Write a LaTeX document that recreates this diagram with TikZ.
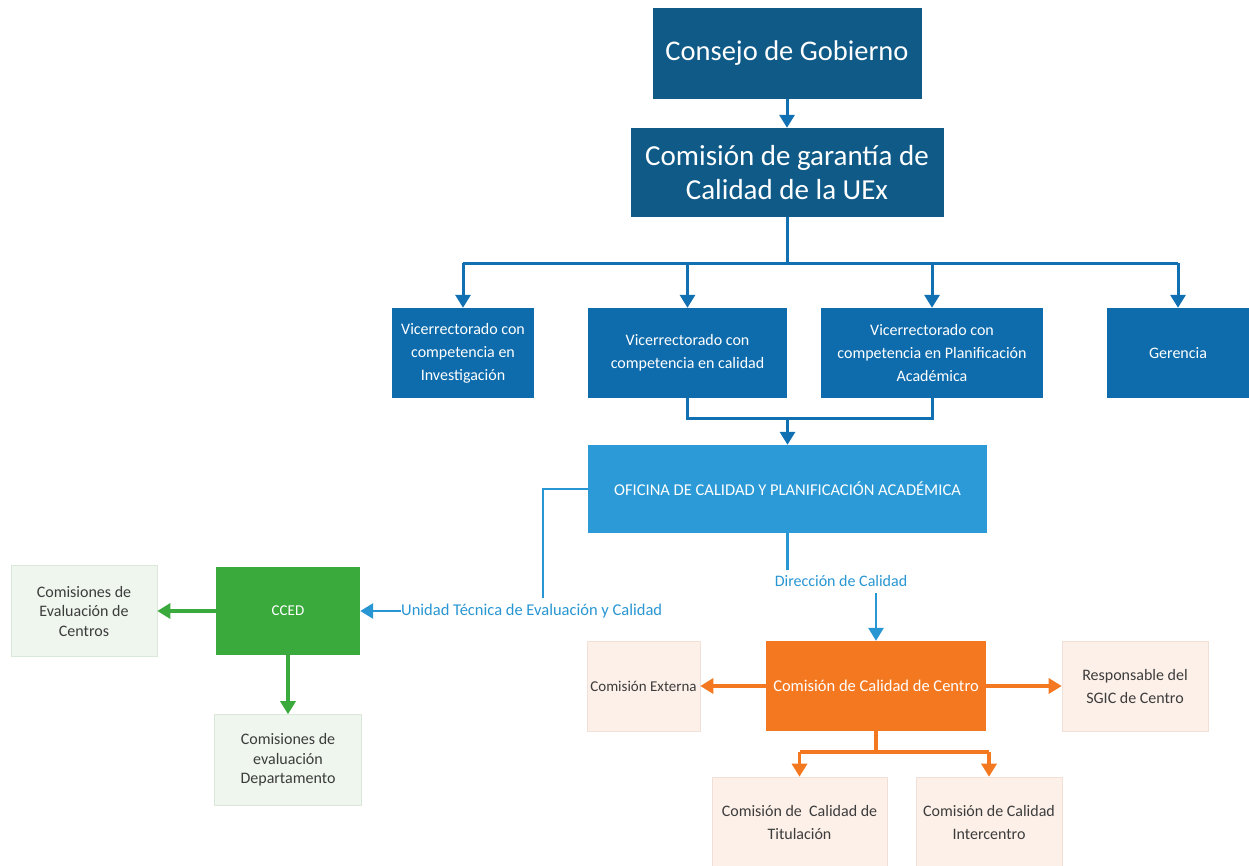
\documentclass[tikz,border=0pt]{standalone}
\usepackage{fontspec}
\setmainfont{Carlito}
\usetikzlibrary{arrows.meta}
\definecolor{dblue}{RGB}{15,90,135}
\definecolor{mblue}{RGB}{14,108,172}
\definecolor{lblue}{RGB}{43,154,215}
\definecolor{lineblue}{RGB}{16,112,178}
\definecolor{llblue}{RGB}{40,150,210}
\definecolor{ggreen}{RGB}{58,170,60}
\definecolor{pgreen}{RGB}{238,246,238}
\definecolor{pgreenb}{RGB}{218,232,218}
\definecolor{orng}{RGB}{244,120,32}
\definecolor{peach}{RGB}{253,240,233}
\definecolor{peachb}{RGB}{240,224,216}
\definecolor{dtext}{RGB}{60,60,60}
\tikzset{
  box/.style={rectangle, inner sep=2pt, align=center, text=white},
  bigbox/.style={box, fill=dblue, font=\fontsize{29}{34}\selectfont},
  vbox/.style={box, fill=mblue, font=\fontsize{16}{23}\selectfont},
  palegreen/.style={box, fill=pgreen, draw=pgreenb, line width=0.6pt, text=dtext, font=\fontsize{16}{19.5}\selectfont},
  palepeach/.style={box, fill=peach, draw=peachb, line width=0.6pt, text=dtext, font=\fontsize{16}{23}\selectfont},
  arr/.style={-{Triangle[width=15pt,length=13pt]}},
  bl/.style={draw=lineblue, line width=3pt},
  lbl/.style={draw=llblue, line width=2.8pt},
  gl/.style={draw=ggreen, line width=3.2pt},
  ol/.style={draw=orng, line width=3.2pt},
}
\begin{document}
\begin{tikzpicture}[x=1pt,y=-1pt]
\useasboundingbox[fill=white] (0,0) rectangle (1249,865);
% top
\node[bigbox, minimum width=269pt, minimum height=91pt, font=\fontsize{28.5}{34}\selectfont] (consejo) at (787,53.5) {Consejo de Gobierno};
\node[bigbox, minimum width=313pt, minimum height=89pt] (cgc) at (787,172.5) {Comisión de garantía de\\Calidad de la UEx};
% vicerrectorados
\node[vbox, minimum width=142pt, minimum height=90pt] (vinv) at (463,353) {Vicerrectorado con\\competencia en\\Investigación};
\node[vbox, minimum width=199pt, minimum height=90pt] (vcal) at (687.5,353) {Vicerrectorado con\\competencia en calidad};
\node[vbox, minimum width=222pt, minimum height=90pt] (vpla) at (932,353) {Vicerrectorado con\\competencia en Planificación\\Académica};
\node[vbox, minimum width=142pt, minimum height=90pt] (ger) at (1178,353) {Gerencia};
% oficina
\node[box, fill=lblue, minimum width=399pt, minimum height=88pt, font=\fontsize{16.5}{18}\selectfont] (ofi) at (787.5,489) {OFICINA DE CALIDAD Y PLANIFICACIÓN ACADÉMICA};
% labels
\node[inner sep=0pt, text=llblue, font=\fontsize{16}{18}\selectfont] (dir) at (841,581) {Dirección de Calidad};
\node[inner sep=0pt, text=llblue, font=\fontsize{16.5}{18}\selectfont, anchor=west] (ute) at (401,611) {Unidad Técnica de Evaluación y Calidad};
% green
\node[box, fill=ggreen, minimum width=144pt, minimum height=88pt, font=\fontsize{15}{18}\selectfont] (cced) at (288,611) {CCED};
\node[palegreen, minimum width=146pt, minimum height=91pt] (cec) at (84,611) {Comisiones de\\Evaluación de\\Centros};
\node[palegreen, minimum width=147pt, minimum height=91pt] (ced) at (288,760) {Comisiones de\\evaluación\\Departamento};
% orange
\node[box, fill=orng, minimum width=220pt, minimum height=90pt, font=\fontsize{16.5}{20}\selectfont] (ccc) at (876,686) {Comisión de Calidad de Centro};
\node[palepeach, minimum width=113pt, minimum height=90pt, font=\fontsize{15}{20}\selectfont] (cext) at (643.5,686) {Comisión Externa};
\node[palepeach, minimum width=146pt, minimum height=90pt] (resp) at (1135,686) {Responsable del\\SGIC de Centro};
\node[palepeach, minimum width=175pt, minimum height=90pt] (ctit) at (799.5,822) {Comisión de \ Calidad de\\Titulación};
\node[palepeach, minimum width=146pt, minimum height=90pt] (cint) at (989,822) {Comisión de Calidad\\Intercentro};
% connectors top
\draw[bl, arr] (consejo.south) -- (cgc.north);
\coordinate (bus) at (787,263);
\draw[bl] (cgc.south) -- (bus);
\draw[bl] (bus -| vinv.north) -- (bus -| ger.north);
\draw[bl, arr] (bus -| vinv.north) -- (vinv.north);
\draw[bl, arr] (bus -| vcal.north) -- (vcal.north);
\draw[bl, arr] (bus -| vpla.north) -- (vpla.north);
\draw[bl, arr] (bus -| ger.north) -- (ger.north);
% to oficina
\coordinate (mid) at (787.5,418);
\draw[bl] (vcal.south) |- (mid) -| (vpla.south);
\draw[bl, arr] (mid) -- (ofi.north);
% oficina to units
\coordinate (utetop) at (543,598);
\draw[lbl] (ofi.west) -| (utetop);
\draw[lbl, arr] (ute.west) -- (cced.east);
\coordinate (ofibot) at (787.5,570);
\draw[lbl] (ofi.south) -- (ofibot);
\coordinate (dirbot) at (876,593);
\draw[lbl, arr] (dirbot) -- (ccc.north);
% green connectors
\draw[gl, arr] (cced.west) -- (cec.east);
\draw[gl, arr] (cced.south) -- (ced.north);
% orange connectors
\draw[ol, arr] (ccc.west) -- (cext.east);
\draw[ol, arr] (ccc.east) -- (resp.west);
\coordinate (obus) at (876,752);
\draw[ol] (ccc.south) -- (obus);
\draw[ol] (obus -| ctit.north) -- (obus -| cint.north);
\draw[ol, arr] (obus -| ctit.north) -- (ctit.north);
\draw[ol, arr] (obus -| cint.north) -- (cint.north);
\end{tikzpicture}
\end{document}
